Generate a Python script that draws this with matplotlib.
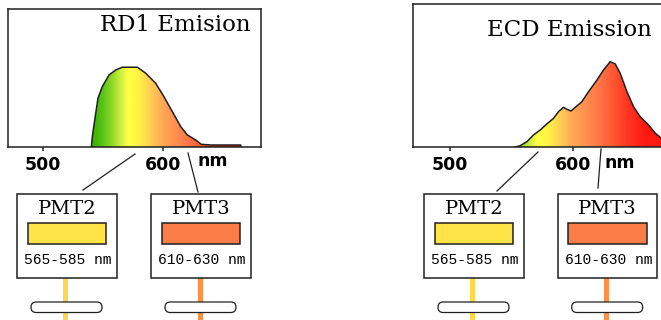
import numpy as np
import matplotlib.pyplot as plt
from matplotlib.colors import LinearSegmentedColormap, Normalize
from matplotlib.patches import Polygon, Rectangle, FancyBboxPatch

W, H = 661, 320

# emission spectra (intensity, peak = 100)
rd1_nm = [540.3, 541.1, 543.1, 545.8, 549.4, 555.0, 560.6, 566.1, 578.6, 585.6,
          593.9, 600.8, 607.8, 614.8, 620.3, 627.3, 631.9, 640.0, 650.0, 664.8, 665.0]
rd1_int = [0, 12.9, 33.9, 61.1, 75.7, 90.3, 96.6, 100, 100, 92.5,
           79.9, 63.1, 44.3, 25.5, 15.1, 8.8, 3.4, 2.5, 2.5, 2.5, 0]

ecd_nm = [553.0, 557.0, 562.5, 567.9, 573.3, 578.8, 584.2, 588.3, 592.3, 595.1,
          598.4, 601.9, 607.3, 612.7, 619.6, 624.9, 630.4, 634.5, 638.5, 644.0,
          649.4, 654.8, 661.6, 667.1, 672.0, 676.0]
ecd_int = [0, 1.5, 6.2, 14.1, 19.9, 27.0, 33.6, 41.4, 46.5, 44.2,
           42.2, 46.5, 53.1, 64.8, 78.5, 90.3, 100, 97.3, 86.4, 64.8,
           47.2, 35.5, 25.8, 16.1, 10.2, 6.5]

titles = ['RD1 Emision', 'ECD Emission']
tick_nm = [500, 600]
pmt_names = ['PMT2', 'PMT3']
pmt_bands = ['565-585 nm', '610-630 nm']
pmt_colors = ['#ffe447', '#fa7d48']
beam_colors = ['#ffd84a', '#ff9048']

# wavelength -> colour used for the fills
color_nm = [540, 550, 558, 565, 571, 580, 590, 600, 612, 622, 632, 645, 660]
color_hex = ['#30b000', '#5cc418', '#94da28', '#d0f040', '#ffff44', '#fff244',
             '#ffcc55', '#ffa855', '#ff8c50', '#ff7446', '#ff5a34', '#ff3520',
             '#ff1a10']

pos = [(v - color_nm[0]) / (color_nm[-1] - color_nm[0]) for v in color_nm]
spec_cmap = LinearSegmentedColormap.from_list('spec', list(zip(pos, color_hex)))
spec_norm = Normalize(color_nm[0], color_nm[-1])

fig = plt.figure(figsize=(W / 100, H / 100), dpi=100)


def px_axes(x0, y0, x1, y1):
    return fig.add_axes([x0 / W, 1 - y1 / H, (x1 - x0) / W, (y1 - y0) / H])


def spectrum(ax, nm, inten, xlim, ytop):
    verts = list(zip(nm, inten)) + [(nm[-1], 0), (nm[0], 0)]
    poly = Polygon(verts, closed=True, facecolor='none', edgecolor='none')
    ax.add_patch(poly)
    xs = np.linspace(xlim[0], xlim[1], 600)
    im = ax.imshow(xs[np.newaxis, :], extent=[xlim[0], xlim[1], 0, ytop],
                   aspect='auto', cmap=spec_cmap, norm=spec_norm,
                   interpolation='bilinear')
    im.set_clip_path(poly)
    ax.plot(nm, inten, color='#202020', lw=1.1)
    ax.set_xlim(*xlim)
    ax.set_ylim(0, ytop)
    ax.set_yticks([])
    ax.set_xticks(tick_nm)
    ax.set_xticklabels([str(t) for t in tick_nm], fontsize=12.5,
                       fontweight='bold', family='DejaVu Sans')
    ax.tick_params(axis='x', length=3, width=1.1, pad=3.5, color='#202020')
    for s in ax.spines.values():
        s.set_linewidth(1.1)
        s.set_color('#202020')


ax1 = px_axes(8, 9, 261, 147)
spectrum(ax1, rd1_nm, rd1_int, (470.8, 681.7), 173)
ax2 = px_axes(413, 4, 666, 147)
spectrum(ax2, ecd_nm, ecd_int, (469.8, 675.8), 167.6)

# overlay in pixel coordinates for the detector diagram
ov = fig.add_axes([0, 0, 1, 1], zorder=5)
ov.set_xlim(0, W)
ov.set_ylim(H, 0)
ov.axis('off')

ov.text(175, 25, titles[0], ha='center', va='center', fontsize=16.5,
        family='DejaVu Serif')
ov.text(569, 30, titles[1], ha='center', va='center', fontsize=16.5,
        family='DejaVu Serif')
ov.text(213, 161, 'nm', ha='center', va='center', fontsize=12.5,
        fontweight='bold')
ov.text(620, 163, 'nm', ha='center', va='center', fontsize=12.5,
        fontweight='bold')

# pointer lines from spectra to detectors
ov.plot([83, 135], [190, 154], color='#202020', lw=0.9)
ov.plot([198, 188], [192, 153], color='#202020', lw=0.9)
ov.plot([497, 538], [191, 152], color='#202020', lw=0.9)
ov.plot([598, 601], [188, 149], color='#202020', lw=0.9)

boxes_left = [17, 151, 424, 557.7]
for k, bx in enumerate(boxes_left):
    j = k % 2
    cx = bx + 50
    # beam below the box
    ov.add_patch(Rectangle((cx - 2.5 - (1 if j else 2), 278), 5, 42,
                           facecolor=beam_colors[j], edgecolor='none'))
    # window / lens
    ov.add_patch(FancyBboxPatch((bx + 14, 302), 71, 10.5,
                                boxstyle='round,pad=0,rounding_size=5.2',
                                facecolor='white', edgecolor='#202020', lw=0.9))
    ov.add_patch(Rectangle((bx, 194), 99.5, 84, facecolor='white',
                           edgecolor='#202020', lw=1.1))
    ov.text(cx, 209, pmt_names[j], ha='center', va='center', fontsize=14,
            family='DejaVu Serif')
    ov.add_patch(Rectangle((bx + 10.5, 222.7), 78.5, 21.3,
                           facecolor=pmt_colors[j], edgecolor='#202020', lw=1.1))
    ov.text(bx + 7, 260, pmt_bands[j], ha='left', va='center',
            fontsize=10.5, family='Liberation Mono')

fig.savefig('out.png', dpi=100)
